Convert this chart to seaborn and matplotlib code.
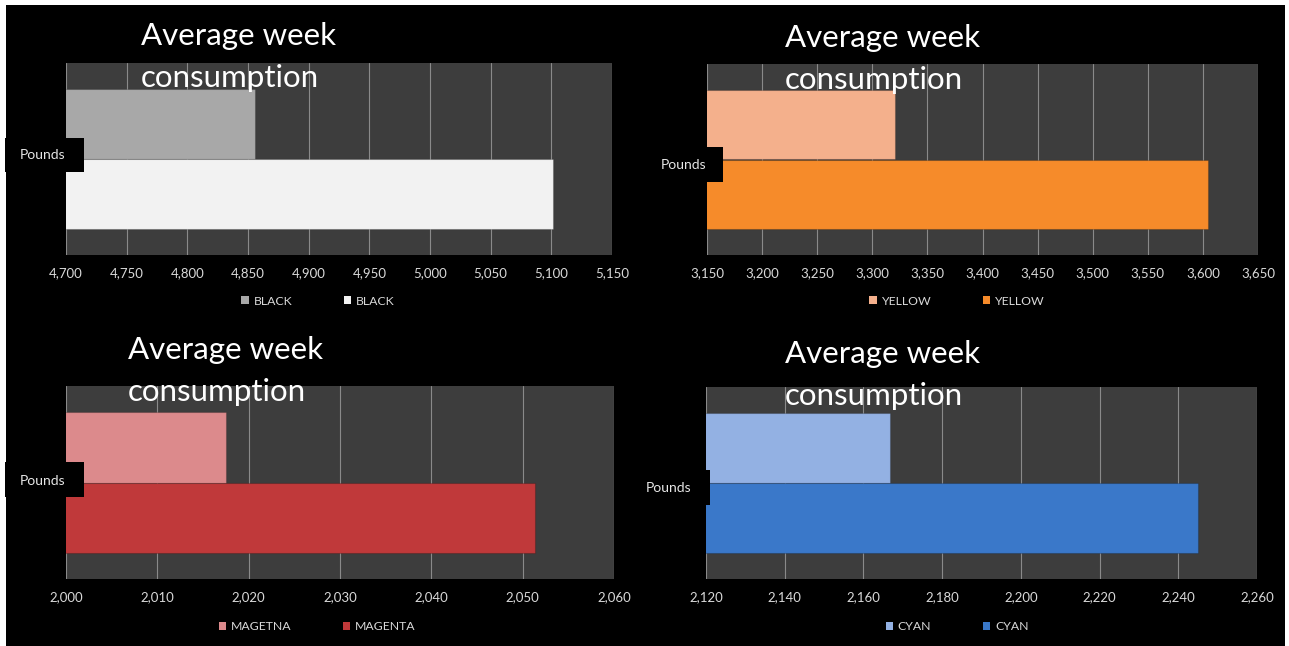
import matplotlib
matplotlib.use('Agg')
import matplotlib.pyplot as plt
from matplotlib.patches import Rectangle, Patch
from matplotlib.ticker import FuncFormatter, MultipleLocator
import pandas as pd
import seaborn as sns

# chart data
category = 'Pounds'
title = 'Average week\nconsumption'

black_names = ['BLACK', 'BLACK']
black_values = [4856, 5101]
black_axis = (4700, 5150, 50)

yellow_names = ['YELLOW', 'YELLOW']
yellow_values = [3321, 3605]
yellow_axis = (3150, 3650, 50)

magenta_names = ['MAGETNA', 'MAGENTA']
magenta_values = [2017.5, 2051.3]
magenta_axis = (2000, 2060, 10)

cyan_names = ['CYAN', 'CYAN']
cyan_values = [2166.7, 2245]
cyan_axis = (2120, 2260, 20)

W, H = 1289, 646

sns.set_style('dark')
plt.rcParams['font.family'] = ['Lato', 'DejaVu Sans']

fig = plt.figure(figsize=(W / 100, H / 100), dpi=100, facecolor='white')
# black slide background
fig.add_artist(Rectangle((6 / W, 0), (1285 - 6) / W, (H - 5) / H,
                         transform=fig.transFigure, facecolor='black',
                         edgecolor='none', zorder=-5))


def px(x, y):
    return x / W, 1 - y / H


def drawPanel(names, values, axis, colors, box, title_xy, pounds_box, pounds_xy, legend_xy):
    left, top, right, bottom = box
    ax = fig.add_axes([left / W, 1 - bottom / H, (right - left) / W, (bottom - top) / H])
    df = pd.DataFrame({'cat': [category] * len(values),
                       'value': values,
                       'series': ['s%d' % i for i in range(len(values))]})
    sns.barplot(data=df, x='value', y='cat', hue='series', palette=colors,
                orient='h', width=0.73, saturation=1, legend=False, ax=ax,
                edgecolor='#00000030', linewidth=0.8)
    lo, hi, step = axis
    ax.set_xlim(lo, hi)
    ax.xaxis.set_major_locator(MultipleLocator(step))
    ax.xaxis.set_major_formatter(FuncFormatter(lambda v, p: f'{v:,.0f}'))
    ax.set_facecolor('#3d3d3d')
    ax.grid(axis='x', color='#8a8a8a', lw=0.8)
    ax.grid(axis='y', visible=False)
    ax.set_axisbelow(True)
    for s in ax.spines.values():
        s.set_visible(False)
    ax.tick_params(axis='x', length=0, pad=9, labelsize=9.5, labelcolor='#d9d9d9')
    ax.tick_params(axis='y', length=0, labelleft=False)
    ax.set_xlabel('')
    ax.set_ylabel('')

    # title over the plot
    tx, ty = px(*title_xy)
    fig.text(tx, ty, title, ha='left', va='top', color='white',
             fontsize=22.5, linespacing=1.62)

    # category label in its black box
    x0, y0, x1, y1 = pounds_box
    fig.add_artist(Rectangle((x0 / W, 1 - y1 / H), (x1 - x0) / W, (y1 - y0) / H,
                             transform=fig.transFigure, facecolor='black',
                             edgecolor='none', zorder=2))
    cx, cy = px(*pounds_xy)
    fig.text(cx, cy, category, ha='center', va='center', color='#e6e6e6',
             fontsize=10, zorder=3)

    handles = [Patch(facecolor=c, edgecolor='none') for c in colors]
    lx, ly = px(*legend_xy)
    fig.legend(handles, names, loc='center', bbox_to_anchor=(lx, ly), ncol=2,
               frameon=False, fontsize=8.8, labelcolor='#d9d9d9',
               handlelength=0.6, handleheight=0.6, handletextpad=0.4,
               columnspacing=4.2)


drawPanel(black_names, black_values, black_axis, ['#a8a8a8', '#f2f2f2'],
          (66, 63, 612, 255), (141, 22), (5, 138, 84, 172), (43, 155), (318, 301))
drawPanel(yellow_names, yellow_values, yellow_axis, ['#f4b08c', '#f68b2a'],
          (707, 64, 1258, 255), (785, 24), (650, 147, 723, 182), (684, 165), (957, 301))
drawPanel(magenta_names, magenta_values, magenta_axis, ['#dc8a8c', '#c0393a'],
          (66, 386, 614, 579), (128, 336), (5, 462, 84, 497), (43, 481), (317, 627))
drawPanel(cyan_names, cyan_values, cyan_axis, ['#93b1e3', '#3a78c9'],
          (706, 387, 1257, 579), (785, 340), (645, 470, 710, 505), (669, 488), (957, 627))

fig.savefig('out.png', dpi=100, facecolor=fig.get_facecolor())
